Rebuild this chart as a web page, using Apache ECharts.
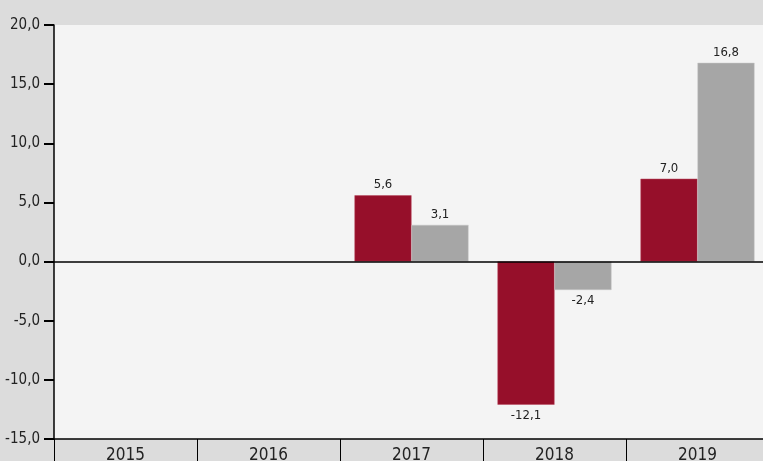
<!DOCTYPE html>
<html><head><meta charset="utf-8">
<script src="https://cdn.jsdelivr.net/npm/echarts@6/dist/echarts.min.js"></script>
<style>html,body{margin:0;padding:0;background:#dcdcdc;overflow:hidden;}#c{width:770px;height:461px;}</style>
</head><body><div id="c"></div>
<script>
const categories = ['2015','2016','2017','2018','2019'];
const seriesA = [null, null, 5.6, -12.1, 7.0];
const seriesB = [null, null, 3.1, -2.4, 16.8];
const yMin = -15, yMax = 20, yStep = 5;

const FONT = '"DejaVu Sans Condensed","Liberation Sans Narrow",sans-serif';
const fmt = v => (v == null ? '' : Number(v).toFixed(1).replace('.', ','));

const chart = echarts.init(document.getElementById('c'));
chart.setOption({
  backgroundColor: '#dcdcdc',
  animation: false,
  grid: { left: 54, top: 25, width: 715, height: 414, show: true, backgroundColor: '#f4f4f4', borderWidth: 0, containLabel: false, outerBoundsMode: 'none' },
  xAxis: {
    type: 'category', data: categories, position: 'bottom',
    axisLine: { onZero: false, lineStyle: { color: '#000', width: 1.5 } },
    axisTick: { show: true, length: 24, alignWithLabel: false, lineStyle: { color: '#000', width: 1 } },
    axisLabel: { margin: 8, fontFamily: FONT, fontSize: 17, color: '#222' },
    splitLine: { show: false }
  },
  yAxis: {
    type: 'value', min: yMin, max: yMax, interval: yStep,
    axisLine: { show: true, lineStyle: { color: '#000', width: 1.5 } },
    axisTick: { show: true, length: 10, lineStyle: { color: '#000', width: 2 } },
    axisLabel: { fontFamily: FONT, fontSize: 15, color: '#222', margin: 14, formatter: v => fmt(v) },
    splitLine: { show: false }
  },
  series: [
    {
      type: 'bar', data: seriesA, barWidth: 57, barGap: '0%',
      itemStyle: { color: '#960f2a', borderColor: '#b8475c', borderWidth: 0.5 },
      label: { show: true, position: 'outside', fontFamily: FONT, fontSize: 13, color: '#222', distance: 4, formatter: p => fmt(p.value) },
      markLine: {
        silent: true, symbol: ['none', 'none'], label: { show: false },
        lineStyle: { color: '#000', width: 1.5, type: 'solid' },
        data: [{ yAxis: 0 }]
      }
    },
    {
      type: 'bar', data: seriesB, barWidth: 57, barGap: '0%',
      itemStyle: { color: '#a6a6a6', borderColor: '#c4c4c4', borderWidth: 0.5 },
      label: { show: true, position: 'outside', fontFamily: FONT, fontSize: 13, color: '#222', distance: 4, formatter: p => fmt(p.value) }
    }
  ]
});
</script></body></html>
